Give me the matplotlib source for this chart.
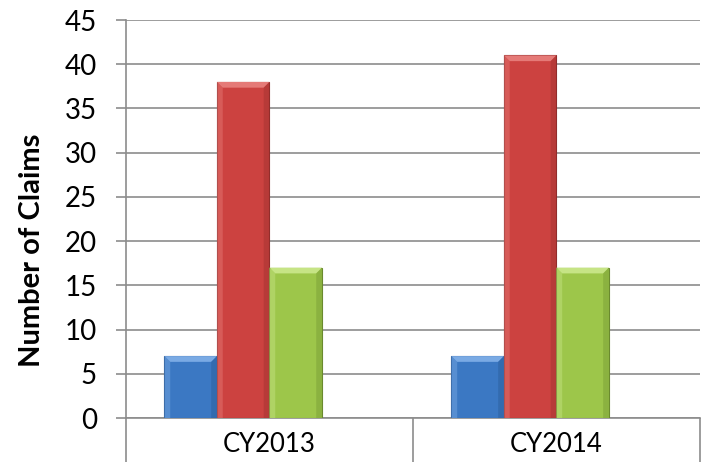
import numpy as np
import matplotlib
matplotlib.use("Agg")
import matplotlib.pyplot as plt
from matplotlib.patches import Polygon
from matplotlib.ticker import FixedLocator

plt.rcParams["font.family"] = ["Lato", "DejaVu Sans"]

categories = ["CY2013", "CY2014"]
series_a = [7, 7]     # blue
series_b = [38, 41]   # red
series_c = [17, 17]   # green
# a fourth, empty series keeps its slot in each group (as in the original)
n_slots = 4

colors = ["#3B78C3", "#CC4240", "#9DC64A"]
edge_colors = ["#2A5A96", "#8A2A29", "#6A8A2E"]
light_colors = ["#7AAAE4", "#E57A77", "#C6E485"]
dark_colors = ["#2F63A3", "#A93533", "#80A63A"]

fig = plt.figure(figsize=(7.02, 4.62), dpi=100)
ax = fig.add_axes([0.1795, 0.0952, 0.8175, 0.8615])

x = np.arange(len(categories))
width = 0.183
offsets = [(i - (n_slots - 1) / 2) * width for i in range(3)]

for vals, off, c, ec, lc, dc in zip([series_a, series_b, series_c], offsets,
                                    colors, edge_colors, light_colors, dark_colors):
    bars = ax.bar(x + off, vals, width, color=c, edgecolor=ec, linewidth=0.8, zorder=3)
    for bar in bars:
        bx, bw, bh = bar.get_x(), bar.get_width(), bar.get_height()
        dx, dy = bw * 0.11, 0.65
        top = Polygon([(bx, bh), (bx + bw, bh), (bx + bw - dx, bh - dy), (bx + dx, bh - dy)],
                      closed=True, facecolor=lc, edgecolor="none", zorder=4)
        left = Polygon([(bx, bh), (bx + dx, bh - dy), (bx + dx, 0), (bx, 0)],
                       closed=True, facecolor=lc, edgecolor="none", alpha=0.45, zorder=4)
        right = Polygon([(bx + bw, bh), (bx + bw - dx, bh - dy), (bx + bw - dx, 0), (bx + bw, 0)],
                        closed=True, facecolor=dc, edgecolor="none", alpha=0.6, zorder=4)
        for p in (top, left, right):
            ax.add_patch(p)

ax.set_xlim(-0.5, 1.5)
ax.set_ylim(0, 45)
ax.set_yticks(np.arange(0, 46, 5))
ax.yaxis.grid(True, color="#8C8C8C", linewidth=1.2, zorder=0)
ax.set_axisbelow(True)

ax.set_xticks(x)
ax.set_xticklabels(categories, fontsize=18.5)
ax.tick_params(axis="x", which="major", length=0, pad=10)
ax.xaxis.set_minor_locator(FixedLocator([-0.5, 0.5, 1.5]))
ax.tick_params(axis="x", which="minor", length=32, width=1.2, color="#8C8C8C")
ax.tick_params(axis="y", length=7, width=1.2, color="#8C8C8C", labelsize=20, pad=14)

for side in ["top", "right"]:
    ax.spines[side].set_visible(False)
for side in ["left", "bottom"]:
    ax.spines[side].set_color("#8C8C8C")
    ax.spines[side].set_linewidth(1.2)

ax.set_ylabel("Number of Claims", fontsize=21, fontweight="bold")
ax.yaxis.set_label_coords(-0.142, 0.422)

fig.savefig("out.png", dpi=100)
